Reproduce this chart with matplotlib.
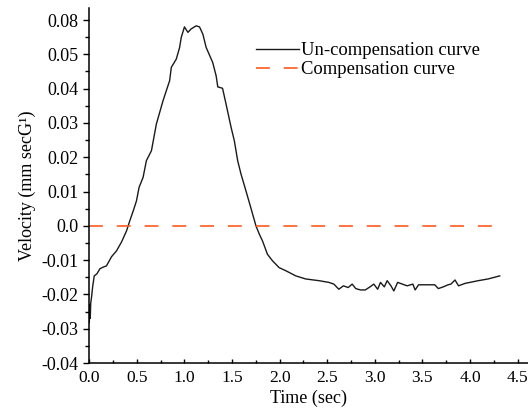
import numpy as np
import matplotlib
matplotlib.use('Agg')
import matplotlib.pyplot as plt
from matplotlib.ticker import MultipleLocator

plt.rcParams['font.family'] = ['Liberation Serif', 'DejaVu Serif']
plt.rcParams['lines.scale_dashes'] = False

# un-compensation curve
time_un = [0.0, 0.005, 0.01, 0.015, 0.025, 0.035, 0.052, 0.08, 0.112, 0.15, 0.18, 0.234,
           0.286, 0.339, 0.391, 0.426, 0.46, 0.496, 0.523, 0.565, 0.6, 0.653, 0.705,
           0.774, 0.844, 0.862, 0.914, 0.949, 0.966, 1.0, 1.036, 1.07, 1.123, 1.158,
           1.193, 1.228, 1.297, 1.333, 1.35, 1.4, 1.437, 1.49, 1.524, 1.559, 1.594,
           1.646, 1.70, 1.751, 1.786, 1.82, 1.872, 1.925, 1.995, 2.065, 2.17, 2.274,
           2.414, 2.518, 2.57, 2.622, 2.67, 2.72, 2.762, 2.8, 2.849, 2.9, 2.95, 2.99,
           3.03, 3.06, 3.1, 3.13, 3.17, 3.2, 3.24, 3.29, 3.34, 3.4, 3.424, 3.46, 3.564,
           3.63, 3.668, 3.72, 3.77, 3.8, 3.843, 3.88, 3.947, 4.087, 4.19, 4.313]
vel_un = [-0.0282, -0.023, -0.027, -0.0225, -0.0205, -0.0178, -0.0146, -0.014, -0.0125,
          -0.012, -0.0117, -0.009, -0.0073, -0.0047, -0.0015, 0.0015, 0.0042, 0.0073,
          0.0112, 0.0141, 0.019, 0.0219, 0.0297, 0.0364, 0.0423, 0.0462, 0.0486, 0.052,
          0.0549, 0.058, 0.0564, 0.0574, 0.0583, 0.058, 0.0559, 0.052, 0.0476, 0.0437,
          0.0405, 0.0401, 0.0355, 0.0287, 0.0248, 0.019, 0.0151, 0.0102, 0.005, 0.0,
          -0.0024, -0.0044, -0.0083, -0.0102, -0.0122, -0.0131, -0.0146, -0.0155,
          -0.016, -0.0165, -0.017, -0.0185, -0.0175, -0.018, -0.017, -0.0183, -0.0187,
          -0.0187, -0.0178, -0.017, -0.0185, -0.0165, -0.0178, -0.016, -0.0175, -0.019,
          -0.0165, -0.017, -0.0175, -0.017, -0.0187, -0.0172, -0.0172, -0.0172, -0.0183,
          -0.0178, -0.0172, -0.017, -0.0158, -0.0175, -0.0168, -0.016, -0.0155, -0.0146]

# compensation curve
time_comp = [0.0, 4.27]
vel_comp = [0.0, 0.0]

ytick_vals = [-0.04, -0.03, -0.02, -0.01, 0.0, 0.01, 0.02, 0.03, 0.04, 0.05, 0.06]
ytick_labels = ['-0.04', '-0.03', '-0.02', '-0.01', '0.0', '0.01', '0.02', '0.03',
                '0.04', '0.05', '0.08']
xtick_vals = [0.0, 0.5, 1.0, 1.5, 2.0, 2.5, 3.0, 3.5, 4.0, 4.5]

fig = plt.figure(figsize=(5.28, 4.15), dpi=100)
ax = fig.add_axes([89.3 / 528, 52 / 415, 1 - 89.3 / 528, (363 - 8) / 415])

ax.plot(time_un, vel_un, color='#1a1a1a', lw=1.0, label='Un-compensation curve')
ax.plot(time_comp, vel_comp, color='#ff5a1f', lw=1.2, linestyle=(0, (10, 10)),
        label='Compensation curve')

ax.set_xlim(0, 4.61)
ax.set_ylim(-0.04, 0.0635)
ax.set_xticks(xtick_vals)
ax.set_xticklabels([f'{v:.1f}' for v in xtick_vals])
ax.xaxis.set_minor_locator(MultipleLocator(0.25))
ax.set_yticks(ytick_vals)
ax.set_yticklabels(ytick_labels)
ax.yaxis.set_minor_locator(MultipleLocator(0.005))

ax.spines['top'].set_visible(False)
ax.spines['right'].set_visible(False)
for s in ['left', 'bottom']:
    ax.spines[s].set_linewidth(1.1)

ax.tick_params(axis='y', which='major', labelsize=13, width=1.0, length=4, pad=4)
ax.tick_params(axis='y', which='minor', direction='out', length=3, width=1.0)
ax.tick_params(axis='x', which='major', direction='in', labelsize=12.5, width=1.0,
               length=3, pad=5)
ax.tick_params(axis='x', which='minor', direction='in', length=2, width=1.0)

ax.set_xlabel('Time (sec)', fontsize=13, labelpad=3)
ax.set_ylabel('Velocity (mm secG¹)', fontsize=13, labelpad=4)

ax.legend(loc='upper left', bbox_to_anchor=(247 / 528, 1 - 33 / 415),
          bbox_transform=fig.transFigure, frameon=False, fontsize=13.4,
          handlelength=2.3, handletextpad=0.1, labelspacing=0.1, borderpad=0)

fig.savefig('out.png', dpi=100)
